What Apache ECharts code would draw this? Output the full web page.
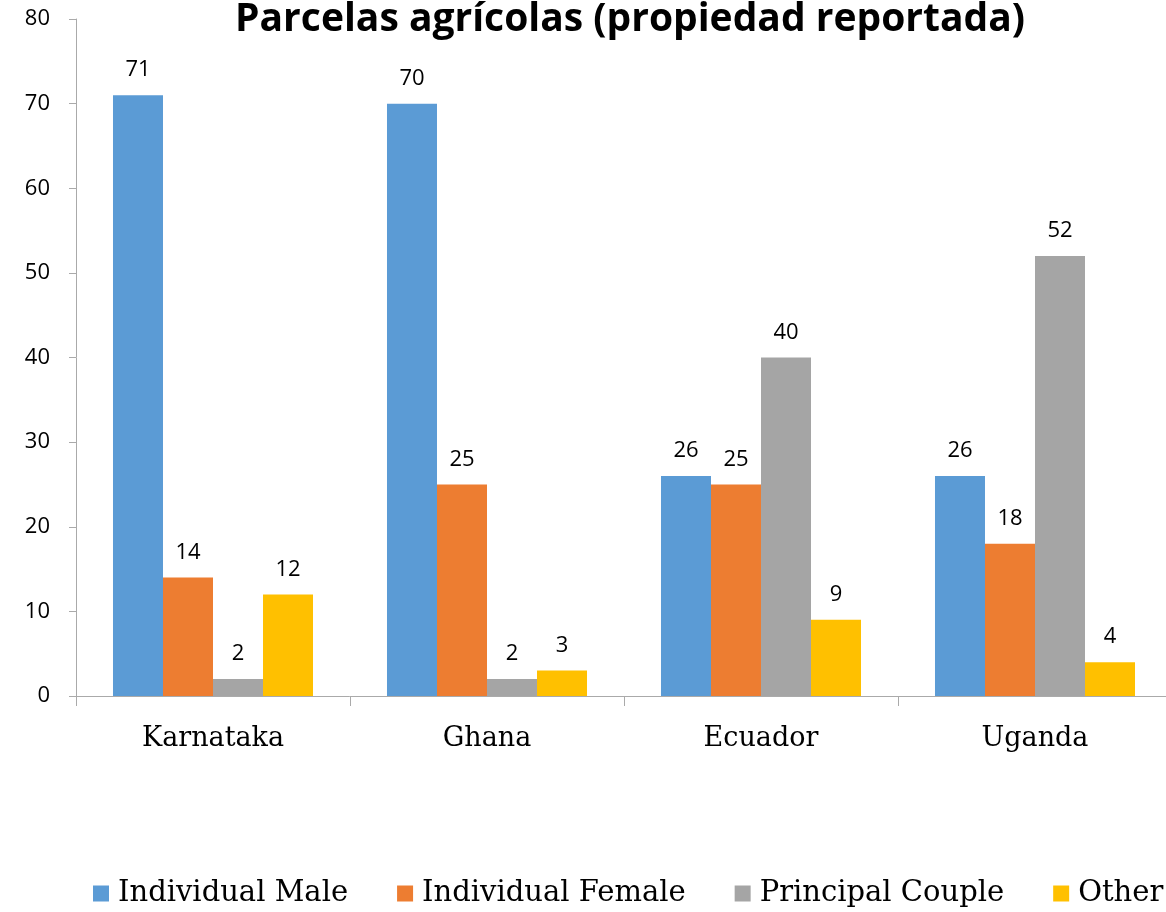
<!DOCTYPE html>
<html><head><meta charset="utf-8">
<script src="https://cdn.jsdelivr.net/npm/echarts@6/dist/echarts.min.js"></script>
<style>html,body{margin:0;padding:0;background:#fff;overflow:hidden}#c{width:1190px;height:912px}</style>
</head><body><div id="c"></div>
<script>
const categories = ['Karnataka', 'Ghana', 'Ecuador', 'Uganda'];
const seriesNames = ['Individual Male', 'Individual Female', 'Principal Couple', 'Other'];
const individualMale = [71, 70, 26, 26];
const individualFemale = [14, 25, 25, 18];
const principalCouple = [2, 2, 40, 52];
const other = [12, 3, 9, 4];
const colors = ['#5B9BD5', '#ED7D31', '#A5A5A5', '#FFC000'];
const values = [individualMale, individualFemale, principalCouple, other];

const chart = echarts.init(document.getElementById('c'));
chart.setOption({
  animation: false,
  title: {
    text: 'Parcelas agrícolas (propiedad reportada)',
    left: 625, top: -5, textAlign: 'center',
    textStyle: { fontFamily: 'Open Sans', fontWeight: 'bold', fontSize: 39, color: '#000' }
  },
  legend: {
    top: 879, left: 93, padding: 0, itemWidth: 16, itemHeight: 16, itemGap: 49,
    icon: 'rect',
    textStyle: { fontFamily: 'DejaVu Serif', fontSize: 29, color: '#000', padding: [0, 0, 0, 4] },
    data: seriesNames
  },
  grid: { left: 76, top: 19, width: 1096, height: 677 },
  xAxis: {
    type: 'category', data: categories,
    axisLine: { lineStyle: { color: '#aaaaaa', width: 1 } },
    axisTick: { show: true, length: 10, lineStyle: { color: '#aaaaaa' } },
    axisLabel: { fontFamily: 'DejaVu Serif', fontSize: 27, color: '#000', margin: 29 }
  },
  yAxis: {
    type: 'value', min: 0, max: 80, interval: 10,
    axisLine: { show: true, lineStyle: { color: '#aaaaaa' } },
    axisTick: { show: true, inside: false, length: 7, lineStyle: { color: '#aaaaaa' } },
    splitLine: { show: false },
    axisLabel: { fontFamily: 'Open Sans', fontSize: 22, color: '#000', margin: 26 }
  },
  series: values.map((v, i) => ({
    name: seriesNames[i], type: 'bar', data: v,
    barGap: '0%', barCategoryGap: '27%',
    itemStyle: { color: colors[i] },
    label: { show: true, position: 'top', distance: 14, fontFamily: 'Open Sans', fontSize: 22, color: '#000' }
  }))
});
</script></body></html>
